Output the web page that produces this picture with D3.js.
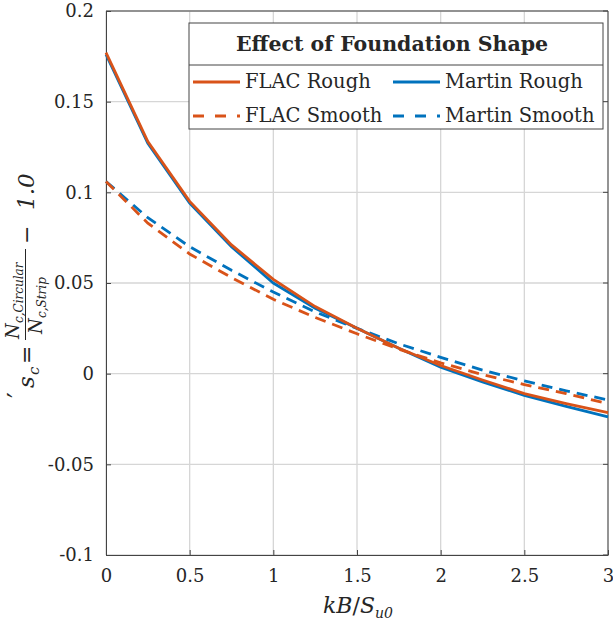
<!DOCTYPE html>
<html>
<head>
<meta charset="utf-8">
<script src="https://cdn.jsdelivr.net/npm/d3@7"></script>
<style>
  body { margin: 0; background: #fff; }
  svg { display: block; }
</style>
</head>
<body>
<div id="container"></div>
<script>
// data
var kB = [0, 0.25, 0.5, 0.75, 1, 1.25, 1.5, 1.75, 2, 2.25, 2.5, 2.75, 3];
var flacRough    = [0.177, 0.128, 0.095, 0.071, 0.052, 0.037, 0.025, 0.014, 0.0045, -0.0035, -0.011, -0.0165, -0.0215];
var martinRough  = [0.176, 0.127, 0.094, 0.070, 0.050, 0.036, 0.025, 0.014, 0.0035, -0.0045, -0.012, -0.018, -0.0238];
var flacSmooth   = [0.106, 0.083, 0.066, 0.053, 0.041, 0.031, 0.022, 0.0135, 0.006, -0.0005, -0.006, -0.011, -0.0165];
var martinSmooth = [0.106, 0.086, 0.070, 0.057, 0.045, 0.034, 0.025, 0.0165, 0.009, 0.002, -0.004, -0.0095, -0.0145];
var xTicks = [0, 0.5, 1, 1.5, 2, 2.5, 3];
var xTickLabels = ["0", "0.5", "1", "1.5", "2", "2.5", "3"];
var yTicks = [-0.1, -0.05, 0, 0.05, 0.1, 0.15, 0.2];
var yTickLabels = ["-0.1", "-0.05", "0", "0.05", "0.1", "0.15", "0.2"];

var orange = "#D95319", blue = "#0072BD";
var series = [
  {name: "Martin Rough",  vals: martinRough,  color: blue,   dash: null},
  {name: "Martin Smooth", vals: martinSmooth, color: blue,   dash: "11,7"},
  {name: "FLAC Rough",    vals: flacRough,    color: orange, dash: null},
  {name: "FLAC Smooth",   vals: flacSmooth,   color: orange, dash: "11,7"}
];

var W = 613, H = 630;
var margin = {top: 11, left: 106, right: 5, bottom: 75};
var width = W - margin.left - margin.right,
    height = H - margin.top - margin.bottom;
var font = "'DejaVu Serif', serif";

var svg = d3.select("div#container").append("svg").attr("width", W).attr("height", H);
var g = svg.append("g").attr("transform", "translate(" + margin.left + "," + margin.top + ")");

var xScale = d3.scaleLinear().domain([0, 3]).range([0, width]);
var yScale = d3.scaleLinear().domain([-0.1, 0.2]).range([height, 0]);

// grid
g.append("g").selectAll("line").data(xTicks).enter().append("line")
  .attr("x1", d => xScale(d)).attr("x2", d => xScale(d))
  .attr("y1", 0).attr("y2", height)
  .attr("stroke", "#d6d6d6").attr("stroke-width", 1.3);
g.append("g").selectAll("line").data(yTicks).enter().append("line")
  .attr("x1", 0).attr("x2", width)
  .attr("y1", d => yScale(d)).attr("y2", d => yScale(d))
  .attr("stroke", "#d6d6d6").attr("stroke-width", 1.3);

// axes
var xAxis = d3.axisBottom(xScale).tickValues(xTicks).tickFormat((d, i) => xTickLabels[i]).tickSizeInner(-5).tickSizeOuter(0).tickPadding(14);
var yAxis = d3.axisLeft(yScale).tickValues(yTicks).tickFormat((d, i) => yTickLabels[i]).tickSizeInner(-5).tickSizeOuter(0).tickPadding(12);

var gx = g.append("g").attr("transform", "translate(0," + height + ")").call(xAxis);
var gy = g.append("g").call(yAxis);
[gx, gy].forEach(function(a) {
  a.selectAll("path").attr("stroke", "#444").attr("stroke-width", 1);
  a.selectAll("line").attr("stroke", "#444");
  a.selectAll("text").style("font-family", font).style("font-size", "18px").attr("fill", "#262626");
});
// right and top edge with ticks
g.append("line").attr("x1", width).attr("x2", width).attr("y1", 0).attr("y2", height).attr("stroke", "#444");
g.append("line").attr("x1", 0).attr("x2", width).attr("y1", 0).attr("y2", 0).attr("stroke", "#444");
g.append("g").selectAll("line").data(yTicks).enter().append("line")
  .attr("x1", width - 5).attr("x2", width).attr("y1", d => yScale(d)).attr("y2", d => yScale(d)).attr("stroke", "#444");

// lines
var line = d3.line()
  .x(function(d, i) { return xScale(kB[i]); })
  .y(function(d) { return yScale(d); });

g.selectAll("path.chart").data(series).enter().append("path")
  .attr("class", "chart")
  .attr("d", d => line(d.vals))
  .attr("fill", "none")
  .attr("stroke", d => d.color)
  .attr("stroke-dasharray", d => d.dash)
  .style("stroke-width", 2.8);

// legend
var lg = svg.append("g");
lg.append("rect").attr("x", 189).attr("y", 23).attr("width", 414).attr("height", 106)
  .attr("fill", "#fff").attr("stroke", "#444").attr("stroke-width", 1);
lg.append("line").attr("x1", 189).attr("x2", 603).attr("y1", 65).attr("y2", 65).attr("stroke", "#444");
lg.append("text").attr("x", 392).attr("y", 51).attr("text-anchor", "middle")
  .style("font-family", font).style("font-weight", "bold").style("font-size", "20.5px").attr("fill", "#262626")
  .text("Effect of Foundation Shape");

var legendItems = [
  {name: "FLAC Rough",    color: orange, dash: null,    x: 193, y: 82},
  {name: "Martin Rough",  color: blue,   dash: null,    x: 393, y: 82},
  {name: "FLAC Smooth",   color: orange, dash: "11,11", x: 193, y: 116},
  {name: "Martin Smooth", color: blue,   dash: "11,11", x: 393, y: 116}
];
legendItems.forEach(function(it) {
  lg.append("line").attr("x1", it.x).attr("x2", it.x + 47).attr("y1", it.y).attr("y2", it.y)
    .attr("stroke", it.color).attr("stroke-width", 2.8).attr("stroke-dasharray", it.dash);
  lg.append("text").attr("x", it.x + 52).attr("y", it.y + 6)
    .style("font-family", font).style("font-size", "19.5px").attr("fill", "#262626")
    .text(it.name);
});

// x label
var xl = svg.append("text").attr("x", 358).attr("y", 613).attr("text-anchor", "middle")
  .style("font-family", font).style("font-size", "22px").style("font-style", "italic").attr("fill", "#262626");
xl.append("tspan").text("kB");
xl.append("tspan").style("font-style", "normal").text("/");
xl.append("tspan").text("S");
xl.append("tspan").attr("dy", 5).style("font-size", "14px").text("u0");

// y label, pieces rotated -90, placed by screen start y (bottom) and baseline x
var yl = svg.append("g");
function piece(txt, sy, sx, size, italic) {
  return yl.append("text")
    .attr("transform", "translate(" + sx + "," + sy + ") rotate(-90)")
    .style("font-family", font).style("font-size", size + "px")
    .style("font-style", italic ? "italic" : "normal").attr("fill", "#262626")
    .text(txt);
}
piece("\u2032", 398, 26, 26, false);
piece("s", 388, 34, 23, true);
piece("c", 375, 39, 15, true);
piece("=", 364, 34, 22, false);
yl.append("line").attr("x1", 25.5).attr("x2", 25.5).attr("y1", 249).attr("y2", 340).attr("stroke", "#262626").attr("stroke-width", 1);
piece("N", 339, 19, 18, true);
piece("c,Circular", 323, 23, 12, true);
piece("N", 334, 42, 18, true);
piece("c,Strip", 318, 46, 12, true);
piece("\u2212", 244, 34, 22, false);
piece("1.0", 210, 34, 23, true);
</script>
</body>
</html>
